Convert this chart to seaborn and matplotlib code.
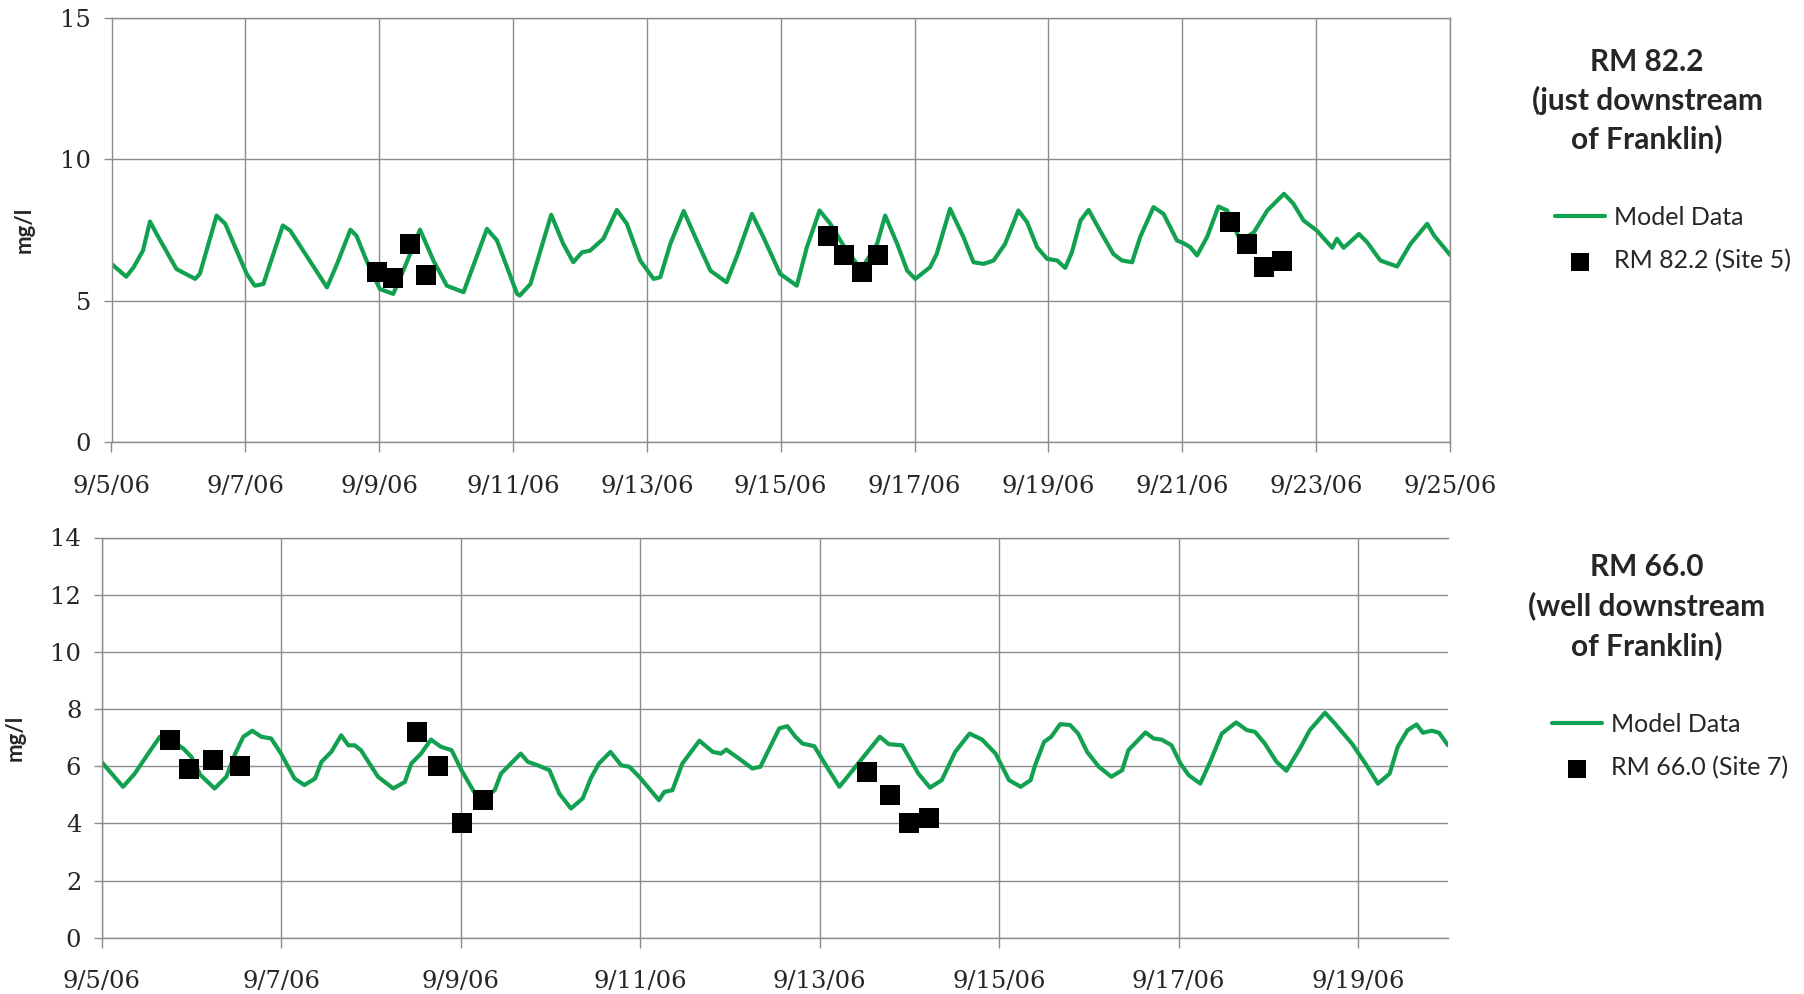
import numpy as np
import pandas as pd
import matplotlib
matplotlib.use("Agg")
import matplotlib.pyplot as plt
import seaborn as sns

# ---------------- data ----------------
start_date = "2006-09-05"

# RM 82.2 model (days since 9/5/06, mg/l)
top_model_day = [0.00, 0.22, 0.33, 0.47, 0.575, 0.70, 0.97, 1.25, 1.32, 1.57, 1.70, 1.87, 2.02, 2.14, 2.27,
                 2.56, 2.67, 3.22, 3.37, 3.57, 3.66, 3.81, 4.01, 4.21, 4.34, 4.61, 4.81, 5.01, 5.26, 5.61,
                 5.76, 6.06, 6.10, 6.26, 6.57, 6.75, 6.90, 7.03, 7.15, 7.35, 7.55, 7.70, 7.90, 8.10, 8.20,
                 8.35, 8.55, 8.75, 8.95, 9.19, 9.34, 9.57, 9.74, 9.99, 10.24, 10.39, 10.58, 10.74, 10.95,
                 11.20, 11.44, 11.56, 11.74, 11.89, 12.01, 12.23, 12.33, 12.53, 12.73, 12.88, 13.03, 13.18,
                 13.35, 13.55, 13.68, 13.83, 13.98, 14.13, 14.25, 14.35, 14.48, 14.60, 14.77, 14.97, 15.10,
                 15.25, 15.37, 15.57, 15.72, 15.92, 16.02, 16.12, 16.22, 16.37, 16.54, 16.67, 16.87, 17.07,
                 17.27, 17.52, 17.66, 17.81, 18.01, 18.24, 18.31, 18.41, 18.64, 18.76, 18.96, 19.21, 19.41,
                 19.66, 19.76, 20.00]
top_model_val = [6.30, 5.85, 6.18, 6.77, 7.80, 7.25, 6.12, 5.77, 5.95, 8.01, 7.72, 6.77, 5.95, 5.53, 5.59,
                 7.66, 7.48, 5.47, 6.30, 7.51, 7.30, 6.42, 5.41, 5.24, 5.95, 7.51, 6.42, 5.53, 5.30, 7.54,
                 7.13, 5.24, 5.18, 5.59, 8.04, 7.01, 6.36, 6.71, 6.77, 7.19, 8.21, 7.72, 6.42, 5.77, 5.83,
                 7.01, 8.17, 7.10, 6.06, 5.65, 6.54, 8.07, 7.25, 5.95, 5.53, 6.89, 8.19, 7.72, 6.90,
                 6.10, 7.01, 8.01, 7.01, 6.06, 5.77, 6.18, 6.65, 8.25, 7.25, 6.36, 6.30, 6.42,
                 7.00, 8.19, 7.78, 6.89, 6.48, 6.42, 6.16, 6.71, 7.84, 8.21, 7.48, 6.65, 6.42,
                 6.36, 7.25, 8.31, 8.07, 7.13, 7.03, 6.89, 6.60, 7.25, 8.33, 8.19, 7.10, 7.42,
                 8.19, 8.78, 8.43, 7.84, 7.48, 6.87, 7.19, 6.87, 7.36, 7.07, 6.42, 6.21, 7.01,
                 7.72, 7.31, 6.62]

# RM 82.2 (Site 5) observations
top_obs_day = [3.96, 4.21, 4.46, 4.70, 10.71, 10.95, 11.21, 11.46, 16.72, 16.96, 17.22, 17.49]
top_obs_val = [6.0, 5.8, 7.0, 5.9, 7.3, 6.6, 6.0, 6.6, 7.8, 7.0, 6.2, 6.4]

# RM 66.0 model
bot_model_day = [0.00, 0.24, 0.37, 0.52, 0.65, 0.80, 0.91, 1.00, 1.10, 1.26, 1.39, 1.49, 1.58, 1.68, 1.78,
                 1.89, 2.00, 2.15, 2.26, 2.38, 2.45, 2.56, 2.67, 2.75, 2.82, 2.89, 3.08, 3.25, 3.38, 3.45,
                 3.56, 3.67, 3.78, 3.90, 4.01, 4.15, 4.25, 4.38, 4.45, 4.67, 4.75, 4.86, 4.99, 5.10, 5.23,
                 5.36, 5.45, 5.54, 5.67, 5.79, 5.88, 5.99, 6.21, 6.27, 6.36, 6.47, 6.66, 6.81, 6.90, 6.96,
                 7.10, 7.25, 7.34, 7.44, 7.55, 7.64, 7.73, 7.81, 7.94, 8.07, 8.22, 8.40, 8.67, 8.77, 8.92,
                 9.10, 9.23, 9.36, 9.51, 9.67, 9.81, 9.96, 10.11, 10.24, 10.35, 10.40, 10.50, 10.58, 10.68,
                 10.79, 10.88, 10.98, 11.11, 11.25, 11.37, 11.44, 11.63, 11.72, 11.81, 11.92, 12.02, 12.11,
                 12.24, 12.35, 12.48, 12.64, 12.76, 12.85, 12.96, 13.09, 13.20, 13.35, 13.46, 13.63, 13.74,
                 13.93, 14.08, 14.22, 14.35, 14.44, 14.55, 14.65, 14.72, 14.82, 14.90, 15.00]
bot_model_val = [6.15, 5.28, 5.74, 6.44, 7.03, 6.85, 6.62, 6.33, 5.70, 5.22, 5.63, 6.44, 7.03, 7.24, 7.03,
                 6.97, 6.44, 5.57, 5.34, 5.57, 6.15, 6.50, 7.08, 6.73, 6.73, 6.56, 5.63, 5.22, 5.45, 6.09,
                 6.44, 6.93, 6.68, 6.56, 5.86, 5.10, 4.85, 5.16, 5.74, 6.44, 6.15, 6.03, 5.86, 5.04, 4.52,
                 4.87, 5.57, 6.09, 6.50, 6.03, 5.98, 5.63, 4.81, 5.10, 5.16, 6.09, 6.89, 6.50, 6.44, 6.58,
                 6.27, 5.92, 5.98, 6.62, 7.32, 7.40, 7.03, 6.79, 6.70, 6.03, 5.28, 5.98, 7.03, 6.77, 6.73,
                 5.74, 5.25, 5.51, 6.50, 7.14, 6.93, 6.44, 5.51, 5.28, 5.51, 6.03, 6.85, 7.03, 7.47,
                 7.44, 7.14, 6.50, 5.98, 5.63, 5.86, 6.56, 7.18, 6.97, 6.93, 6.73, 6.09, 5.69,
                 5.39, 6.15, 7.14, 7.53, 7.26, 7.20, 6.79, 6.15, 5.84, 6.62, 7.26, 7.87, 7.49,
                 6.79, 6.09, 5.39, 5.74, 6.68, 7.26, 7.46, 7.17, 7.24, 7.17, 6.73]

# RM 66.0 (Site 7) observations
bot_obs_day = [0.76, 0.98, 1.24, 1.54, 3.51, 3.75, 4.02, 4.25, 8.53, 8.78, 8.99, 9.22]
bot_obs_val = [6.9, 5.9, 6.2, 6.0, 7.2, 6.0, 4.0, 4.8, 5.8, 5.0, 4.0, 4.2]

top_xticklabels = ["9/5/06", "9/7/06", "9/9/06", "9/11/06", "9/13/06", "9/15/06",
                   "9/17/06", "9/19/06", "9/21/06", "9/23/06", "9/25/06"]
bot_xticklabels = ["9/5/06", "9/7/06", "9/9/06", "9/11/06", "9/13/06", "9/15/06",
                   "9/17/06", "9/19/06"]
top_yticks = [0, 5, 10, 15]
bot_yticks = [0, 2, 4, 6, 8, 10, 12, 14]

top_title = ["RM 82.2", "(just downstream", "of Franklin)"]
bot_title = ["RM 66.0", "(well downstream", "of Franklin)"]
model_label = "Model Data"
top_obs_label = "RM 82.2 (Site 5)"
bot_obs_label = "RM 66.0 (Site 7)"
y_label = "mg/l"

# ---------------- style ----------------
sns.set_style("white")
plt.rcParams["font.family"] = ["Lato", "DejaVu Sans"]

GREEN = "#12A150"
GRID = "#8c8c8c"
W, H = 1804, 994

t0 = pd.Timestamp(start_date)
def to_dates(days):
    return t0 + pd.to_timedelta(np.asarray(days, dtype=float), unit="D")

fig = plt.figure(figsize=(W / 100, H / 100), dpi=100)
ax1 = fig.add_axes([111.5 / W, 1 - 442 / H, 1338.5 / W, 424 / H])
ax2 = fig.add_axes([101.5 / W, 1 - 937.7 / H, 1346.5 / W, 400.2 / H])

tick_font = dict(family="DejaVu Serif", size=17.5)

def style_axis(ax, xlabels, yticks, ylim, xlim_days, right_spine):
    tick_dates = pd.to_datetime(xlabels, format="%m/%d/%y")
    ax.set_xticks(tick_dates)
    ax.set_xticklabels(xlabels, fontdict=tick_font)
    ax.set_yticks(yticks)
    ax.set_yticklabels([str(v) for v in yticks], fontdict=tick_font)
    ax.set_ylim(*ylim)
    ax.set_xlim(to_dates([0])[0], to_dates([xlim_days])[0])
    ax.grid(True, color=GRID, linewidth=1.0)
    ax.set_axisbelow(True)
    for side in ["left", "bottom", "top", "right"]:
        ax.spines[side].set_color(GRID)
        ax.spines[side].set_linewidth(1.0)
    ax.spines["right"].set_visible(right_spine)
    ax.tick_params(axis="y", direction="out", length=5.5, width=1.0, color=GRID, pad=9, left=True)
    ax.tick_params(axis="x", direction="out", length=7.5, width=1.0, color=GRID, pad=16, bottom=True)
    ax.set_xlabel("")
    ax.set_ylabel(y_label, fontsize=16, fontweight="bold", family="Lato")

def draw_panel(ax, mday, mval, oday, oval, obs_label):
    sns.lineplot(x=to_dates(mday), y=mval, ax=ax, color=GREEN, linewidth=3.0,
                 label=model_label, sort=False, legend=False)
    sns.scatterplot(x=to_dates(oday), y=oval, ax=ax, marker="s", s=200, color="black",
                    linewidth=0, label=obs_label, legend=False, zorder=5)

draw_panel(ax1, top_model_day, top_model_val, top_obs_day, top_obs_val, top_obs_label)
draw_panel(ax2, bot_model_day, bot_model_val, bot_obs_day, bot_obs_val, bot_obs_label)

style_axis(ax1, top_xticklabels, top_yticks, (0, 15), 20, True)
style_axis(ax2, bot_xticklabels, bot_yticks, (0, 14), 15, False)

ax1.yaxis.set_label_coords((35 - 111.5) / 1338.5, 0.5)
ax2.yaxis.set_label_coords((26 - 101.5) / 1346.5, 0.5)

# titles
def titles(lines, ys):
    for txt, y in zip(lines, ys):
        fig.text(1647 / W, 1 - y / H, txt, ha="center", va="center",
                 fontsize=21.5, fontweight="bold", family="Lato")

titles(top_title, [62, 100, 139])
titles(bot_title, [567, 606, 646])

# legends
def add_legend(ax, x_px, y_top_px):
    h, l = ax.get_legend_handles_labels()
    ax.legend(h, l, loc="upper left", bbox_to_anchor=(x_px / W, 1 - y_top_px / H),
              bbox_transform=fig.transFigure, frameon=False, borderpad=0, borderaxespad=0,
              handlelength=2.0, handletextpad=0.35, labelspacing=0.8, markerscale=0.9,
              prop=dict(family="Lato", size=18))

add_legend(ax1, 1555, 206)
add_legend(ax2, 1552, 713)

fig.savefig("out.png", dpi=100)
